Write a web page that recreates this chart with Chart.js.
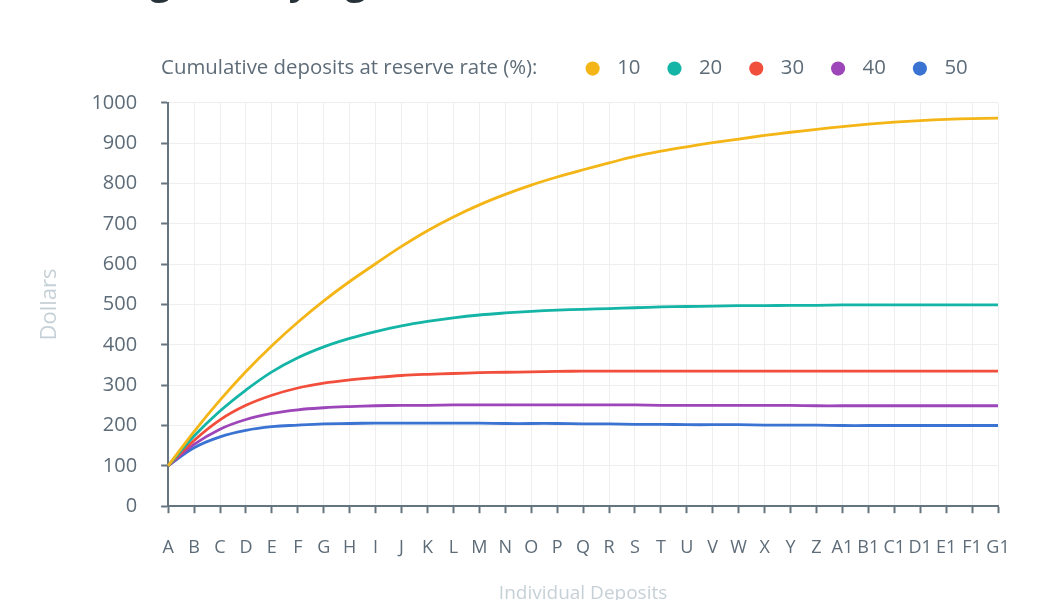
<!DOCTYPE html>
<html>
<head>
<meta charset="utf-8">
<title>Lending at varying reserve rates</title>
<script src="https://cdn.jsdelivr.net/npm/chart.js@4.4.1/dist/chart.umd.min.js"></script>
<style>
    html, body { margin: 0; padding: 0; background: #ffffff; overflow: hidden; }
    body { width: 1050px; height: 600px; position: relative; }
    /* the original export is cropped: the title sits above the top edge */
    #chart-wrap { position: absolute; left: 0; top: -40px; width: 1050px; height: 660px; }
</style>
</head>
<body>
<div id="chart-wrap"><canvas id="depositsChart"></canvas></div>
<script>
// ---- data ----
const categories = [
    'A', 'B', 'C', 'D', 'E', 'F', 'G', 'H', 'I', 'J', 'K', 'L', 'M', 'N', 'O', 'P', 'Q',
    'R', 'S', 'T', 'U', 'V', 'W', 'X', 'Y', 'Z', 'A1', 'B1', 'C1', 'D1', 'E1', 'F1', 'G1'
];
const reserveRates = ['10', '20', '30', '40', '50'];

const rate10 = [100, 185, 263, 334, 398, 456, 509, 557, 601, 644, 683, 717, 747, 773, 796, 816, 834,
    851, 867, 880, 891, 901, 910, 919, 927, 934, 941, 947, 952, 956, 959, 961, 962];
const rate20 = [100, 174, 236, 288, 333, 368, 395, 416, 433, 447, 458, 467, 474, 479, 483, 486, 488,
    490, 492, 494, 495, 496, 497, 497, 498, 498, 499, 499, 499, 499, 499, 499, 499];
const rate30 = [100, 163, 214, 250, 275, 293, 305, 313, 319, 324, 327, 329, 331, 332, 333, 334, 335,
    335, 335, 335, 335, 335, 335, 335, 335, 335, 335, 335, 335, 335, 335, 335, 335];
const rate40 = [100, 153, 191, 215, 230, 239, 244, 247, 249, 250, 250, 251, 251, 251, 251, 251, 251,
    251, 251, 250, 250, 250, 250, 250, 250, 249, 249, 249, 249, 249, 249, 249, 249];
const rate50 = [100, 145, 172, 188, 197, 201, 204, 205, 206, 206, 206, 206, 206, 205, 205, 205, 204,
    204, 203, 203, 202, 202, 202, 201, 201, 201, 200, 200, 200, 200, 200, 200, 200];

const yTicksMin = 0;
const yTicksMax = 1000;
const yTicksStep = 100;

const chartTitle = 'Lending at varying reserve rates';
const legendTitle = 'Cumulative deposits at reserve rate (%):';
const yAxisTitle = 'Dollars';
const xAxisTitle = 'Individual Deposits';

// ---- styling ----
const seriesColors = ['#f4b516', '#14b5a6', '#f24e3c', '#9c46b9', '#3a73d2'];
const axisColor = '#65757f';
const tickTextColor = '#5d6c78';
const faintTextColor = '#c6d1d7';
const gridColor = '#eeeeee';

Chart.defaults.font.family = "'Open Sans', 'Noto Sans', sans-serif";
Chart.defaults.font.size = 20;

/**
 * Pushes the plot area a bit further away from the legend row.
 */
const legendGap = {
    id: 'legendGap',
    beforeInit(chart) {
        const originalFit = chart.legend.fit;
        chart.legend.fit = function fit() {
            originalFit.bind(chart.legend)();
            this.height += 14;
        };
    }
};

const seriesData = [rate10, rate20, rate30, rate40, rate50];

new Chart(document.getElementById('depositsChart'), {
    type: 'line',
    data: {
        labels: categories,
        datasets: reserveRates.map((rate, i) => ({
            label: rate,
            data: seriesData[i],
            borderColor: seriesColors[i],
            backgroundColor: seriesColors[i],
            borderWidth: 2.8,
            pointRadius: 0,
            pointHoverRadius: 0,
            tension: 0.4,
            fill: false
        }))
    },
    options: {
        responsive: true,
        maintainAspectRatio: false,
        animation: false,
        layout: { padding: { left: 24, right: 52, top: 0, bottom: 11 } },
        plugins: {
            title: {
                display: true,
                text: chartTitle,
                align: 'start',
                color: '#263238',
                font: { size: 37, weight: 'bold' },
                padding: { top: 1, bottom: 28 }
            },
            legend: {
                display: true,
                position: 'top',
                align: 'end',
                onClick: () => {},
                labels: {
                    usePointStyle: true,
                    boxWidth: 18,
                    boxHeight: 10,
                    padding: 25,
                    color: tickTextColor,
                    font: { size: 20.4 },
                    generateLabels(chart) {
                        const items = Chart.defaults.plugins.legend.labels.generateLabels(chart);
                        items.forEach(item => {
                            item.text = ' ' + item.text;
                            item.lineWidth = 0;
                        });
                        // a little air after the last entry, as in the original
                        items[items.length - 1].text += ' ';
                        // the legend caption sits in the same row, before the items
                        items.unshift({
                            text: legendTitle + '    ',
                            fillStyle: 'rgba(0,0,0,0)',
                            strokeStyle: 'rgba(0,0,0,0)',
                            lineWidth: 0,
                            pointStyle: 'circle',
                            fontColor: tickTextColor,
                            hidden: false,
                            datasetIndex: -1
                        });
                        return items;
                    }
                }
            },
            tooltip: { enabled: false }
        },
        scales: {
            x: {
                offset: false,
                grid: {
                    color: gridColor,
                    lineWidth: 1,
                    tickColor: axisColor,
                    tickWidth: 2,
                    tickLength: 7
                },
                border: { color: axisColor, width: 2 },
                ticks: {
                    color: tickTextColor,
                    font: { size: 18 },
                    padding: 24.2,
                    maxRotation: 0,
                    autoSkip: false
                },
                title: {
                    display: true,
                    text: xAxisTitle,
                    color: faintTextColor,
                    font: { size: 19 },
                    padding: { top: -1, bottom: 4 }
                }
            },
            y: {
                min: yTicksMin,
                max: yTicksMax,
                grid: {
                    color: gridColor,
                    lineWidth: 1,
                    tickColor: axisColor,
                    tickWidth: 2,
                    tickLength: 7
                },
                border: { color: axisColor, width: 2 },
                ticks: {
                    stepSize: yTicksStep,
                    color: tickTextColor,
                    font: { size: 20 },
                    padding: 24,
                    callback: value => String(value)
                },
                title: {
                    display: true,
                    text: yAxisTitle,
                    color: faintTextColor,
                    font: { size: 22 },
                    padding: { top: 13, bottom: 4 }
                }
            }
        }
    },
    plugins: [legendGap]
});
</script>
</body>
</html>
